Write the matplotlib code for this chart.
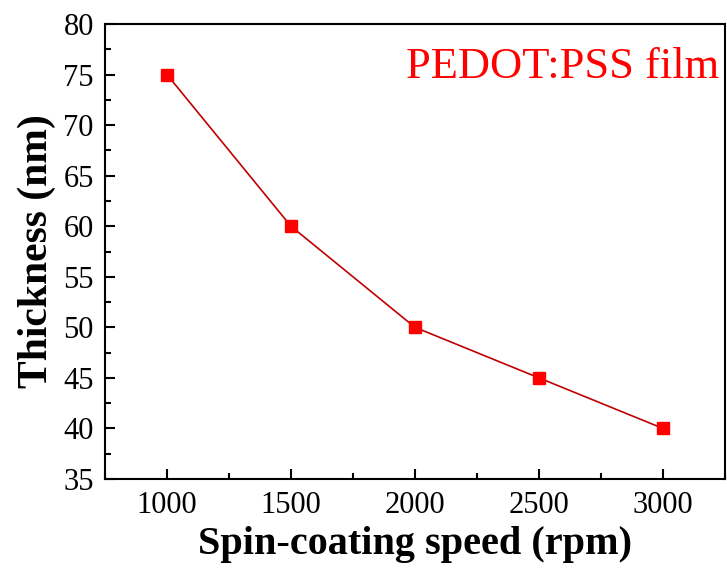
import matplotlib.pyplot as plt
from matplotlib.ticker import MultipleLocator

speed = [1000, 1500, 2000, 2500, 3000]
thickness = [75, 60, 50, 45, 40]

plt.rcParams['font.family'] = ['Liberation Serif', 'DejaVu Serif']

fig = plt.figure(figsize=(7.27, 5.68), dpi=100)
ax = fig.add_axes([0.1444, 0.1567, 0.8528, 0.801])

ax.plot(speed, thickness, color='#c00000', linewidth=1.2, marker='s',
        markersize=9, markerfacecolor='#ff0000', markeredgecolor='#ff0000')

ax.set_xlim(750, 3250)
ax.set_ylim(35, 80)
ax.xaxis.set_major_locator(MultipleLocator(500))
ax.xaxis.set_minor_locator(MultipleLocator(250))
ax.yaxis.set_major_locator(MultipleLocator(5))
ax.yaxis.set_minor_locator(MultipleLocator(2.5))
ax.tick_params(which='both', direction='in', top=False, right=False,
               labelsize=22, width=1.5)
ax.tick_params(which='major', length=7.5)
ax.tick_params(which='minor', length=4.5)
ax.tick_params(axis='x', pad=9)
ax.tick_params(axis='y', pad=8)
for s in ax.spines.values():
    s.set_linewidth(1.5)

ax.set_xlabel('Spin-coating speed (rpm)', fontsize=29, fontweight='bold', labelpad=4)
ax.set_ylabel('Thickness (nm)', fontsize=30, fontweight='bold', labelpad=5)

ax.text(0.99, 0.905, 'PEDOT:PSS film', transform=ax.transAxes, ha='right',
        va='center', fontsize=32, color='#ff0000')

fig.savefig('out.png', dpi=100)
